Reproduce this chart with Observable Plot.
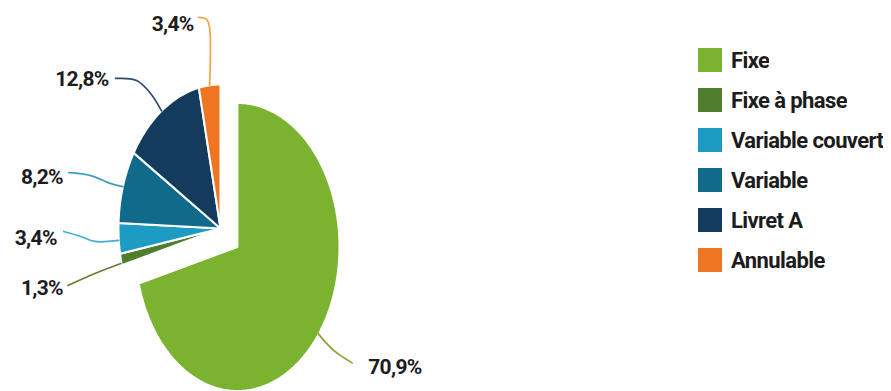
<!DOCTYPE html>
<html><head><meta charset="utf-8">
<script src="https://cdn.jsdelivr.net/npm/d3@7"></script>
<script src="https://cdn.jsdelivr.net/npm/@observablehq/plot@0.6"></script>
<style>
html,body{margin:0;padding:0;background:#fff;}
#wrap{position:relative;width:891px;height:391px;overflow:hidden;}
#wrap > svg{position:absolute;left:0;top:0;}
#wrap > svg text{letter-spacing:-0.7px;}
#legend{position:absolute;left:698px;top:40px;}
#legend .lg-swatches{margin:0 !important;font-family:Roboto,sans-serif !important;font-weight:bold !important;font-size:22px !important;letter-spacing:-0.6px;color:#1c1c1c !important;}
#legend .lg-swatch{height:40px !important;padding-bottom:0 !important;display:flex;align-items:center;}
#legend .lg-swatch > svg{margin-right:9px !important;}
</style></head><body><div id="wrap"><div id="legend"></div></div>
<script>
// ---- data ----
const categories = ["Fixe", "Fixe à phase", "Variable couvert", "Variable", "Livret A", "Annulable"];
const shares = [70.9, 1.3, 3.4, 8.2, 12.8, 3.4];
const valueLabels = ["70,9%", "1,3%", "3,4%", "8,2%", "12,8%", "3,4%"];

// ---- style / layout ----
const colors = ["#7ab32f", "#4f7e2c", "#1d9bc3", "#0f6b89", "#123b5e", "#ee7522"];
const leaderColors = ["#8fa03c", "#6a7d2c", "#3fb0d2", "#3a9fbd", "#2d4b6c", "#f2a540"];
const CX = 220, CY = 228, RX = 102, RY = 144;
const explode = [0.21, 0, 0, 0, 0, 0];
const labelLayout = [
  {text: [50, 32], anchor: "start", path: [[0, -1], [16, 16], [34, 28]]},
  {text: [-58, 29], anchor: "end", path: [[-53, 26], [-26, 14], [0, 4]]},
  {text: [-62, 0], anchor: "end", path: [[-55, -7], [-38, -2], [-24, 3], [0, 2]]},
  {text: [-60, -9], anchor: "end", path: [[-54, -14], [-32, -11], [-12, -3], [0, 0]]},
  {text: [-53, -32], anchor: "end", path: [[-46, -32.5], [-25, -30.5], [-11, -17.5], [0, 0]]},
  {text: [-16, -61], anchor: "end", path: [[-11, -68], [-3, -66], [0, -57], [0, 0]]}
];

const rad = d => d * Math.PI / 180;
const total = d3.sum(shares);
let acc = 0;
const slices = categories.map((name, i) => {
  const a0 = acc / total * 360; acc += shares[i]; const a1 = acc / total * 360;
  const m = rad((a0 + a1) / 2);
  const ox = explode[i] * Math.sin(m), oy = explode[i] * Math.cos(m);
  return {name, i, a0, a1, m, ox, oy, ax: ox + Math.sin(m), ay: oy + Math.cos(m)};
});

const polyPts = [];
for (const s of slices) {
  polyPts.push({name: s.name, x: s.ox, y: s.oy});
  const n = Math.max(2, Math.ceil(s.a1 - s.a0) + 1);
  for (let k = 0; k < n; k++) {
    const a = rad(s.a0 + (s.a1 - s.a0) * k / (n - 1));
    polyPts.push({name: s.name, x: s.ox + Math.sin(a), y: s.oy + Math.cos(a)});
  }
}
const off = (s, [dx, dy]) => ({x: s.ax + dx / RX, y: s.ay - dy / RY});

const leaderMarks = slices.map(s =>
  Plot.line(labelLayout[s.i].path.map(p => off(s, p)), {
    x: "x", y: "y", stroke: leaderColors[s.i], strokeWidth: 1.7, curve: "catmull-rom"
  })
);
const textMarks = slices.map(s =>
  Plot.text([{...off(s, labelLayout[s.i].text), label: valueLabels[s.i]}], {
    x: "x", y: "y", text: "label", textAnchor: labelLayout[s.i].anchor,
    fontSize: 21, fontWeight: "bold", fontFamily: "Roboto", fill: "#1c1c1c"
  })
);

const chart = Plot.plot({
  width: 891, height: 391, margin: 0,
  x: {domain: [-1, 1], range: [CX - RX, CX + RX], axis: null},
  y: {domain: [-1, 1], range: [CY + RY, CY - RY], axis: null},
  color: {domain: categories, range: colors},
  marks: [
    Plot.line(polyPts, {x: "x", y: "y", z: "name", fill: "name", stroke: "white", strokeWidth: 2, strokeLinejoin: "round", curve: "linear-closed"}),
    ...leaderMarks,
    ...textMarks
  ]
});
document.getElementById("wrap").prepend(chart);
document.getElementById("legend").append(chart.legend("color", {columns: 1, swatchSize: 24, className: "lg"}));
</script>
</body></html>
